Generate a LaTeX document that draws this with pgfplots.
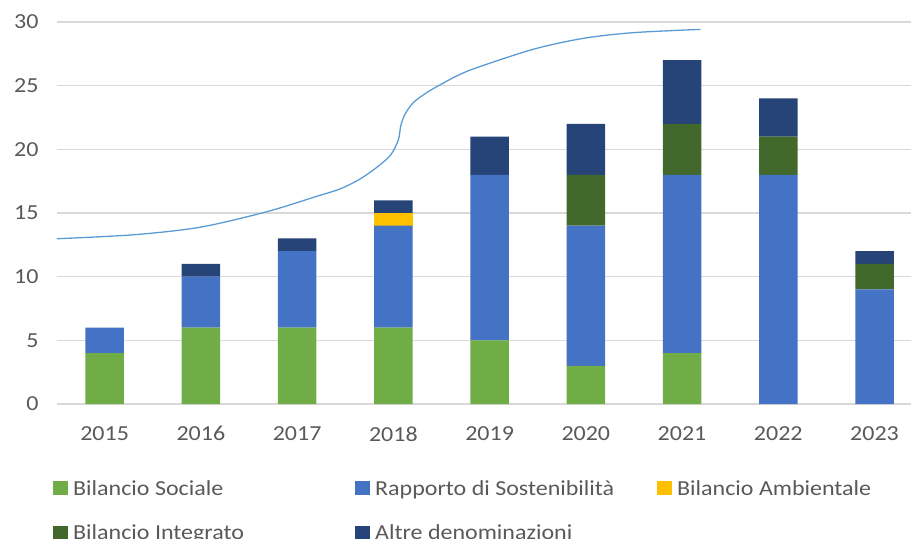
\documentclass[border=0pt]{standalone}
\usepackage{pgfplots}
\pgfplotsset{compat=1.18}
\usepackage{fontspec}
\setmainfont{Carlito}[FakeStretch=1.12]
\definecolor{cSoc}{HTML}{70AD47}
\definecolor{cRap}{HTML}{4472C4}
\definecolor{cAmb}{HTML}{FFC000}
\definecolor{cInt}{HTML}{43682B}
\definecolor{cAlt}{HTML}{264478}
\definecolor{cLine}{HTML}{5B9BD5}
\definecolor{gridc}{HTML}{D9D9D9}
\definecolor{tickc}{HTML}{595959}
\newcommand{\lbl}{\fontsize{21.5}{26}\selectfont}
\begin{document}
\begin{tikzpicture}
\begin{axis}[name=ax,
  scale only axis, width=854bp, height=382bp,
  xmin=-0.495, xmax=8.379, ymin=0, ymax=30,
  ybar stacked, bar width=0.4,
  xtick={0,1,2,3,4,5,6,7,8},
  xticklabels={2015,2016,2017,2018,2019,2020,2021,2022,2023},
  ytick={0,5,10,15,20,25,30},
  major tick length=0,
  ymajorgrids, grid style={draw=gridc, line width=1.3bp},
  axis line style={draw=none},
  tick label style={font=\lbl, text=tickc},
  /pgf/number format/assume math mode=true,
  yticklabel style={xshift=-15bp},
  xticklabel style={yshift=-19bp},
  legend columns=3,
  legend style={draw=none, fill=none, at={(0,0)}, anchor=north west,
    xshift=-4bp, yshift=-74bp, font=\lbl, text=tickc, inner sep=0pt,
    row sep=24bp, nodes={inner sep=2bp}},
  legend image code/.code={\fill[#1] (0bp,-7bp) rectangle (15bp,7bp);},
]
\addplot[fill=cSoc, draw=none] coordinates {(0,4) (1,6) (2,6) (3,6) (4,5) (5,3) (6,4) (7,0) (8,0)};
\addlegendentry{\hspace{3bp}\makebox[280bp][l]{Bilancio Sociale}}
\addplot[fill=cRap, draw=none] coordinates {(0,2) (1,4) (2,6) (3,8) (4,13) (5,11) (6,14) (7,18) (8,9)};
\addlegendentry{\hspace{3bp}\makebox[280bp][l]{Rapporto di Sostenibilità}}
\addplot[fill=cAmb, draw=none] coordinates {(0,0) (1,0) (2,0) (3,1) (4,0) (5,0) (6,0) (7,0) (8,0)};
\addlegendentry{\hspace{3bp}Bilancio Ambientale}
\addplot[fill=cInt, draw=none] coordinates {(0,0) (1,0) (2,0) (3,0) (4,0) (5,4) (6,4) (7,3) (8,2)};
\addlegendentry{\hspace{3bp}\makebox[280bp][l]{Bilancio Integrato}}
\addplot[fill=cAlt, draw=none] coordinates {(0,0) (1,1) (2,1) (3,1) (4,3) (5,4) (6,5) (7,3) (8,1)};
\addlegendentry{\hspace{3bp}\makebox[280bp][l]{Altre denominazioni}}
\end{axis}
\begin{axis}[at={(ax.south west)}, anchor=south west,
  scale only axis, width=854bp, height=382bp,
  xmin=-0.495, xmax=8.379, ymin=0, ymax=30, hide axis, clip=false]
\addplot[color=cLine, line width=1.3bp, smooth, tension=0.5, mark=none] coordinates {
(-0.495,12.98) (0.30,13.29) (0.99,13.88) (1.68,15.09) (2.20,16.30) (2.446,16.89)
(2.654,17.67) (2.827,18.58) (2.966,19.5) (3.035,20.41) (3.062,21.06) (3.077,21.85)
(3.121,22.76) (3.208,23.67) (3.347,24.46) (3.485,25.06) (3.658,25.76) (3.866,26.41)
(4.45,27.85) (4.97,28.71) (5.49,29.16) (6.19,29.42)};
\end{axis}
\pgfresetboundingbox
\path[use as bounding box] ([shift={(-57bp,-135bp)}]ax.south west) rectangle ([shift={(0bp,22bp)}]ax.north east);
\end{tikzpicture}
\end{document}
